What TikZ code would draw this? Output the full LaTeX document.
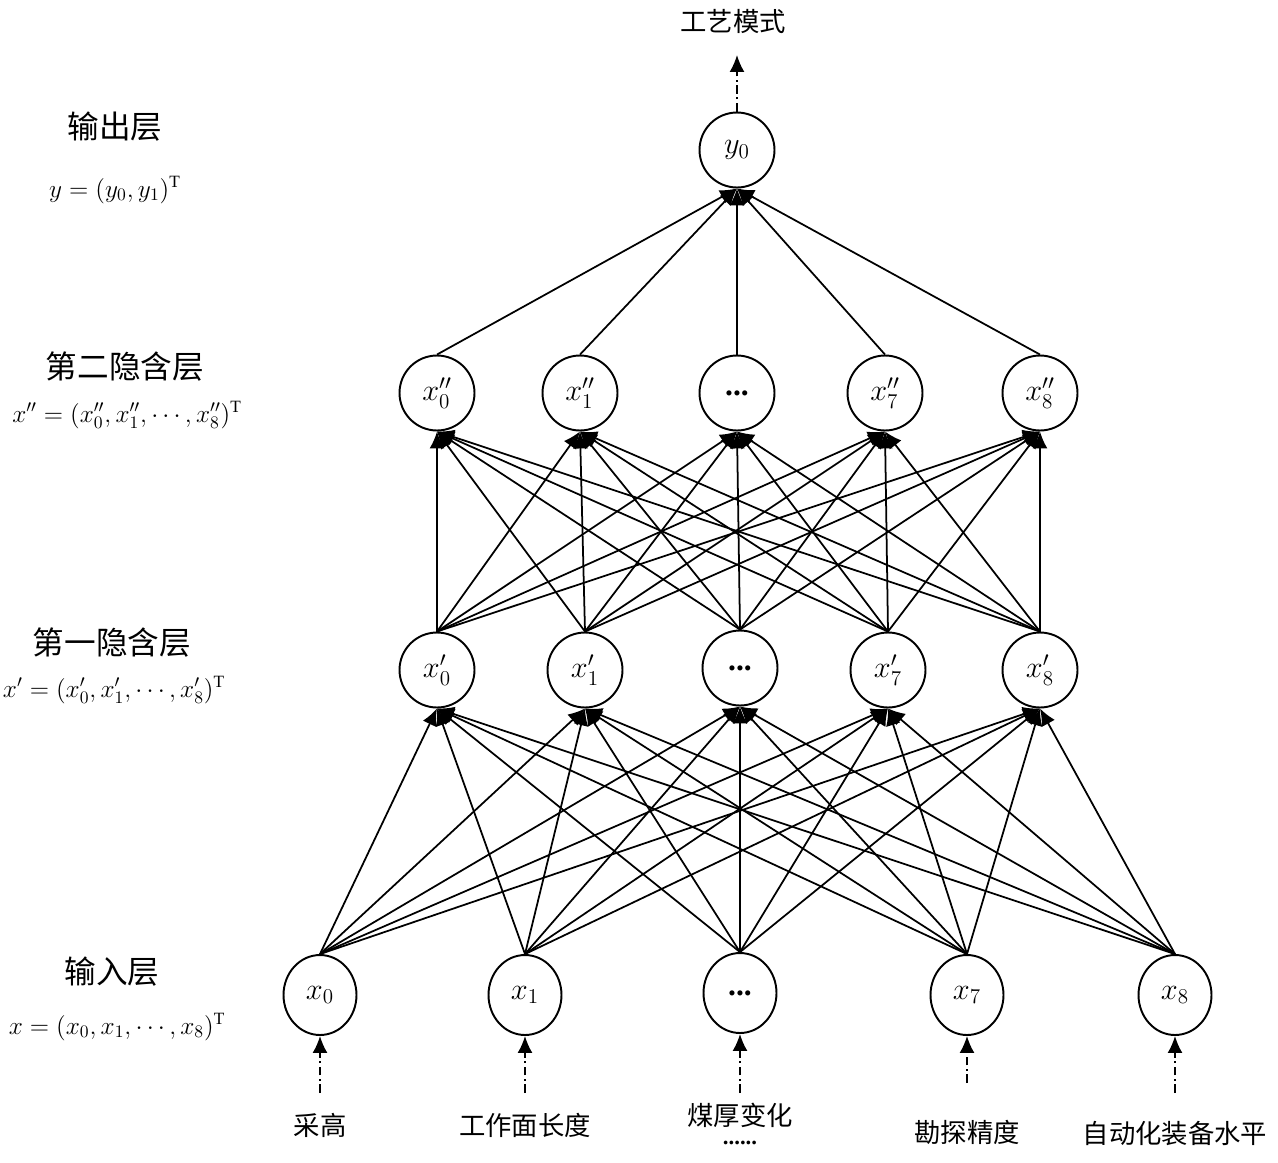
\documentclass[tikz,border=0pt]{standalone}
\usepackage{fontspec}
\setmainfont{Liberation Serif}
\newfontfamily\cjk{Noto Sans CJK SC}
\usetikzlibrary{arrows.meta,shapes.geometric}
\begin{document}
\begin{tikzpicture}[x=0.02cm,y=-0.02cm,
 neuron/.style={circle,draw,line width=1.1pt,minimum size=1.5cm,inner sep=0pt,font=\fontsize{18}{21}\selectfont},
 inneuron/.style={ellipse,draw,line width=1.1pt,minimum width=1.46cm,minimum height=1.6cm,inner sep=0pt,font=\fontsize{18}{21}\selectfont},
 conn/.style={line width=1pt,-{Latex[length=3.4mm,width=3mm]}},
 feed/.style={line width=1pt,dash pattern=on 5pt off 2pt on 1pt off 2pt,-{Latex[length=3.4mm,width=3mm]}},
 lbl/.style={font=\cjk\fontsize{15}{18}\selectfont},
 layer/.style={font=\cjk\fontsize{18}{21}\selectfont},
 formula/.style={font=\fontsize{14}{17}\selectfont}]
\useasboundingbox (0,0) rectangle (1278,1163);

% input layer
\node[inneuron] (i0) at (320,995) {$x_0$};
\node[inneuron] (i1) at (525,995) {$x_1$};
\node[inneuron] (i2) at (740,993) {\textbf{...}};
\node[inneuron] (i3) at (967,995) {$x_7$};
\node[inneuron] (i4) at (1175,995) {$x_8$};
% first hidden
\node[neuron] (h0) at (437,670) {$x'_0$};
\node[neuron] (h1) at (585,670) {$x'_1$};
\node[neuron] (h2) at (740,668) {\textbf{...}};
\node[neuron] (h3) at (888,670) {$x'_7$};
\node[neuron] (h4) at (1040,670) {$x'_8$};
% second hidden
\node[neuron] (g0) at (437,393) {$x''_0$};
\node[neuron] (g1) at (580,393) {$x''_1$};
\node[neuron] (g2) at (737,393) {\textbf{...}};
\node[neuron] (g3) at (885,393) {$x''_7$};
\node[neuron] (g4) at (1040,393) {$x''_8$};
% output
\node[neuron] (o) at (737,150) {$y_0$};

\foreach \a in {0,...,4}{
  \foreach \b in {0,...,4}{
    \draw[conn] (i\a.north) -- (h\b.south);
    \draw[conn] (h\a.north) -- (g\b.south);
  }
  \draw[conn] (g\a.north) -- (o.south);
}

% inputs
\node[lbl] (t0) at (320,1125) {采高};
\node[lbl] (t1) at (525,1125) {工作面长度};
\node[lbl] (t2) at (740,1115) {煤厚变化};
\node[font=\bfseries\fontsize{13}{15}\selectfont] (t2b) at (740,1143) {......};
\node[lbl] (t3) at (967,1132) {勘探精度};
\node[lbl] (t4) at (1175,1133) {自动化装备水平};
\coordinate (c0) at (320,1093);
\coordinate (c1) at (525,1093);
\coordinate (c2) at (740,1093);
\coordinate (c3) at (967,1083);
\coordinate (c4) at (1175,1093);
\foreach \k in {0,...,4}{\draw[feed] (c\k) -- (i\k.south);}

% output
\coordinate (ct) at (737,55);
\draw[feed] (o.north) -- (ct);
\node[lbl] (out) at (733,22) {工艺模式};

% layer labels
\node[layer] (L1) at (115,127) {输出层};
\node[formula] (F1) at (115,190) {$y=(y_0,y_1)^{\mathrm{T}}$};
\node[layer] (L2) at (125,367) {第二隐含层};
\node[formula] (F2) at (127,415) {$x''=(x''_0,x''_1,\cdots,x''_8)^{\mathrm{T}}$};
\node[layer] (L3) at (112,643) {第一隐含层};
\node[formula] (F3) at (114,690) {$x'=(x'_0,x'_1,\cdots,x'_8)^{\mathrm{T}}$};
\node[layer] (L4) at (112,972) {输入层};
\node[formula] (F4) at (117,1027) {$x=(x_0,x_1,\cdots,x_8)^{\mathrm{T}}$};
\end{tikzpicture}
\end{document}
